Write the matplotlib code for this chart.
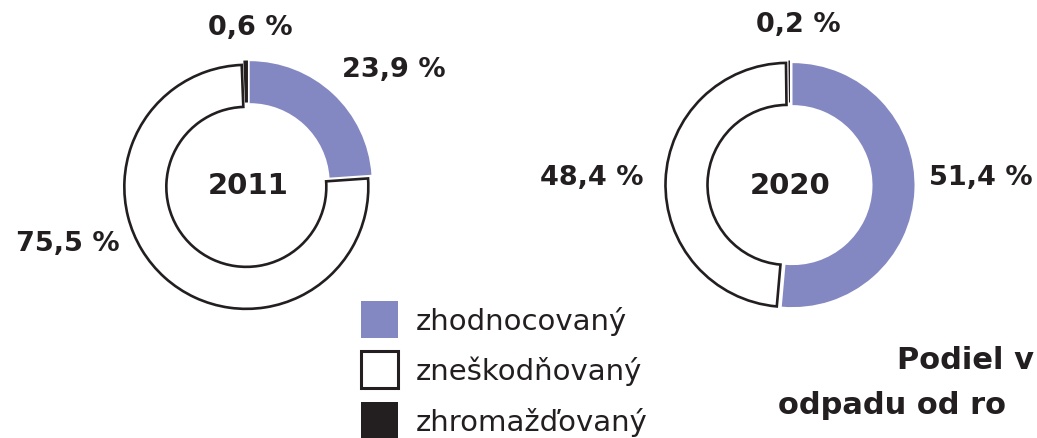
import matplotlib
matplotlib.use("Agg")
import matplotlib.pyplot as plt
from matplotlib.patches import Patch

# share of municipal waste by treatment, %
categories = ["zhodnocovaný", "zneškodňovaný", "zhromažďovaný"]
years = ["2011", "2020"]
shares_2011 = [23.9, 75.5, 0.6]
shares_2020 = [51.4, 48.4, 0.2]

PURPLE = "#8488C2"
INK = "#231F20"
FONT = ["DejaVu Sans"]

W, H = 1037, 439
fig = plt.figure(figsize=(W / 100, H / 100), dpi=100)
ax = fig.add_axes([0, 0, 1, 1])
ax.set_xlim(0, W)
ax.set_ylim(0, H)
ax.axis("off")


def donut(values, center, label_pos):
    # explode is in data units here (1 unit = 1 px)
    wedges, _ = ax.pie(
        values,
        colors=[PURPLE, "white", INK],
        startangle=90,
        counterclock=False,
        center=center,
        radius=122,
        explode=[2.5] * len(values),
        frame=True,
        wedgeprops=dict(width=42, linewidth=0),
    )
    # only the white slice carries an outline
    wedges[1].set_edgecolor(INK)
    wedges[1].set_linewidth(1.9)
    for v, (x, y) in zip(values, label_pos):
        ax.text(x, H - y, f"{v:.1f} %".replace(".", ","), ha="center", va="center",
                fontsize=19.5, fontweight="bold", color=INK, family=FONT)


donut(shares_2011, (248, H - 186), [(394, 70), (68, 244), (250, 28)])
donut(shares_2020, (790, H - 186), [(981, 178), (592, 178), (798, 25)])

ax.set_xlim(0, W)
ax.set_ylim(0, H)
ax.set_aspect("auto")

for yr, cx in zip(years, [248, 790]):
    ax.text(cx, H - 186, yr, ha="center", va="center", fontsize=21,
            fontweight="bold", color=INK, family=FONT)

handles = [
    Patch(facecolor=PURPLE, edgecolor=PURPLE, linewidth=0),
    Patch(facecolor="white", edgecolor=INK, linewidth=2.2),
    Patch(facecolor=INK, edgecolor=INK, linewidth=0),
]
ax.legend(handles, categories, loc="upper left", bbox_to_anchor=(361 / W, 1 - 302 / H),
          frameon=False, borderpad=0, borderaxespad=0,
          handlelength=1.27, handleheight=1.57, handletextpad=0.6, labelspacing=0.46,
          labelcolor=INK, prop=dict(family=FONT, size=21))

ax.text(897, H - 369, "Podiel v", ha="left", va="baseline", fontsize=22,
        fontweight="bold", color=INK, family=FONT)
ax.text(778, H - 414, "odpadu od ro", ha="left", va="baseline", fontsize=22,
        fontweight="bold", color=INK, family=FONT)

fig.savefig("out.png", dpi=100)
